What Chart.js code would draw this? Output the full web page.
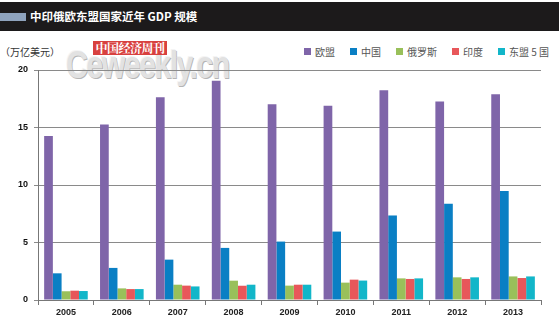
<!DOCTYPE html>
<html>
<head>
<meta charset="utf-8">
<script src="https://cdn.jsdelivr.net/npm/chart.js@4"></script>
<style>
  html, body { margin: 0; padding: 0; background: #fff; }
  body { width: 559px; height: 322px; position: relative; overflow: hidden; font-family: "Noto Sans CJK SC", sans-serif; }
  #titlebar { position: absolute; left: 0; top: 2px; width: 559px; height: 29px; background: #1c1a1b; }
  #titlebar .mark { position: absolute; left: 0; top: 11px; width: 26px; height: 8px; background: #8fa3bd; }
  #titlebar .txt { position: absolute; left: 30px; top: 0; line-height: 29px; color: #fff; font-weight: bold; font-size: 11.5px; }
  #unit { position: absolute; left: 0; top: 44px; font-size: 10px; color: #333; }
  #legend { position: absolute; left: 304px; top: 44px; display: flex; font-size: 10px; color: #555; white-space: nowrap; width: 255px; }
  #legend .item { display: flex; align-items: center; margin-right: 15px; flex: none; }
  #legend .sw { width: 7px; height: 7px; margin-right: 4px; }
  #wm-logo { position: absolute; left: 93px; top: 41px; width: 74px; height: 14px; background: #d8413f; color: #fff; font-family: "Noto Serif CJK SC", serif; font-weight: bold; font-size: 12px; line-height: 14px; text-align: center; letter-spacing: -0.5px; z-index: 2; }
  #wm-text { position: absolute; left: 66px; top: 44px; font-family: "Liberation Sans", sans-serif; font-weight: bold; font-size: 38px; color: #e2e2e2; letter-spacing: -2px; text-shadow: 1px 1px 0 #b5b5b5, -1px -1px 0 #f4f4f4; transform: scaleX(0.8); transform-origin: left top; z-index: 1; }
  #chartwrap { position: absolute; left: 0; top: 0; width: 559px; height: 322px; z-index: 3; }
</style>
</head>
<body>
<div id="titlebar"><div class="mark"></div><div class="txt">中印俄欧东盟国家近年 GDP 规模</div></div>
<div id="unit">（万亿美元）</div>
<div id="wm-text">Ceweekly.cn</div>
<div id="wm-logo">中国经济周刊</div>
<div id="legend"></div>
<div id="chartwrap"><canvas id="c" width="559" height="322"></canvas></div>
<script>
const years = ["2005", "2006", "2007", "2008", "2009", "2010", "2011", "2012", "2013"];
const seriesNames = ["欧盟", "中国", "俄罗斯", "印度", "东盟 5 国"];
const seriesColors = ["#7f65a9", "#0a7fc4", "#99c05a", "#e8575a", "#12b6c9"];
const eu     = [14.27, 15.26, 17.64, 19.06, 17.03, 16.90, 18.25, 17.26, 17.90];
const china  = [2.32, 2.79, 3.51, 4.53, 5.08, 5.95, 7.35, 8.37, 9.47];
const russia = [0.76, 1.01, 1.33, 1.68, 1.25, 1.51, 1.88, 1.97, 2.05];
const india  = [0.81, 0.95, 1.25, 1.24, 1.33, 1.77, 1.83, 1.83, 1.91];
const asean5 = [0.78, 0.95, 1.18, 1.33, 1.33, 1.69, 1.88, 1.97, 2.05];
const yTicks = [0, 5, 10, 15, 20];

const seriesData = [eu, china, russia, india, asean5];

const legend = document.getElementById("legend");
seriesNames.forEach((n, i) => {
  const it = document.createElement("div");
  it.className = "item";
  it.innerHTML = `<span class="sw" style="background:${seriesColors[i]}"></span><span>${n}</span>`;
  legend.appendChild(it);
});

new Chart(document.getElementById("c"), {
  type: "bar",
  data: {
    labels: years,
    datasets: seriesData.map((d, i) => ({
      label: seriesNames[i],
      data: d,
      backgroundColor: seriesColors[i],
      borderWidth: 0,
      categoryPercentage: 0.78,
      barPercentage: 1,
    })),
  },
  options: {
    responsive: false,
    animation: false,
    devicePixelRatio: 1,
    layout: { padding: { top: 70, right: 18, left: 0, bottom: 0 } },
    plugins: { legend: { display: false }, tooltip: { enabled: false } },
    scales: {
      x: {
        grid: { display: true, drawOnChartArea: false, drawTicks: true, tickLength: 5, color: "#777", offset: true },
        border: { color: "#777", width: 1 },
        ticks: { color: "#222", font: { family: "Liberation Sans", weight: "bold", size: 9 }, padding: 2 },
        afterFit: (s) => { s.height = 22; },
      },
      y: {
        min: 0, max: 20,
        afterBuildTicks: (s) => { s.ticks = yTicks.map(v => ({ value: v })); },
        grid: { color: "#8a8a8a", lineWidth: 1, tickLength: 4 },
        border: { color: "#777", width: 1 },
        ticks: { color: "#111", font: { family: "Liberation Sans", weight: "bold", size: 9 }, padding: 6 },
        afterFit: (s) => { s.width = 38; },
      },
    },
  },
});
</script>
</body>
</html>
